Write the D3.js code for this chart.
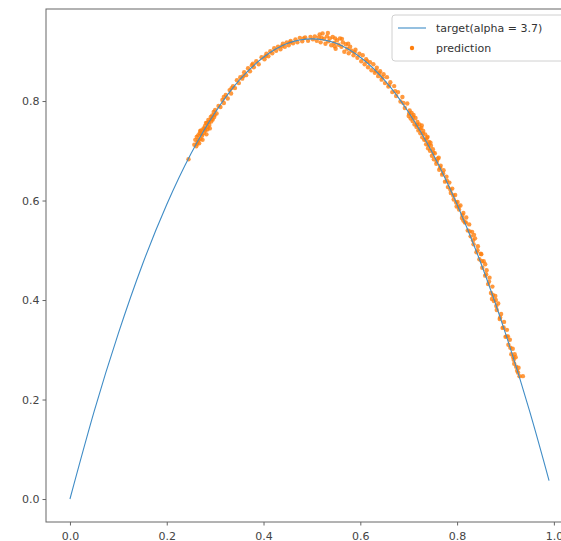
<!DOCTYPE html>
<html lang="en">

<head>
  <meta charset="UTF-8">
  <title>logistic map</title>
  <script src="https://cdn.jsdelivr.net/npm/d3@7"></script>
  <style>
    body { margin: 0; background: #fff; }
    text { font-family: "DejaVu Sans", sans-serif; }
  </style>
</head>

<body>
  <svg width="561" height="541"></svg>
  <script>
    // target curve
    var targetX = [0, 0.05, 0.1, 0.15, 0.2, 0.25, 0.3, 0.35, 0.4, 0.45, 0.5, 0.55, 0.6, 0.65, 0.7, 0.75, 0.8, 0.85, 0.9, 0.95, 0.99]
    var targetY = [0, 0.176, 0.333, 0.472, 0.592, 0.694, 0.777, 0.842, 0.888, 0.916, 0.925, 0.916, 0.888, 0.842, 0.777, 0.694, 0.592, 0.472, 0.333, 0.176, 0.037]

    // prediction scatter
    var predX = [
      0.245, 0.257, 0.259, 0.261, 0.262, 0.264, 0.265, 0.267, 0.268, 0.270, 0.271, 0.273, 0.274, 0.276, 0.277, 0.279, 0.280, 0.282, 0.283, 0.285, 0.286, 0.288, 0.289, 0.291, 0.292, 0.294, 0.295, 0.297, 0.298, 0.300, 0.263, 0.272, 0.284,
      0.266, 0.278, 0.287, 0.293, 0.299, 0.269, 0.281,
      0.303, 0.307, 0.311, 0.315, 0.318, 0.322, 0.326, 0.330, 0.333, 0.337, 0.341, 0.345, 0.349, 0.352, 0.356, 0.360, 0.364, 0.368, 0.372, 0.376, 0.380, 0.385, 0.390, 0.396,
      0.402, 0.406, 0.410, 0.414, 0.418, 0.422, 0.426, 0.430, 0.435, 0.440, 0.444, 0.448, 0.452, 0.456, 0.461, 0.466, 0.470, 0.475, 0.480, 0.486, 0.492, 0.497,
      0.318, 0.334, 0.358, 0.378, 0.404, 0.438, 0.455, 0.483,
      0.502, 0.506, 0.510, 0.514, 0.518, 0.522, 0.525, 0.528, 0.531, 0.534, 0.537, 0.540, 0.543, 0.546, 0.549, 0.552, 0.555, 0.558, 0.561, 0.564, 0.567, 0.570, 0.573, 0.576, 0.579, 0.582, 0.586, 0.590, 0.594, 0.598,
      0.516, 0.533, 0.548, 0.562, 0.575, 0.588, 0.547, 0.520,
      0.602, 0.605, 0.609, 0.612, 0.616, 0.620, 0.623, 0.627, 0.630, 0.634, 0.637, 0.641, 0.644, 0.648, 0.651, 0.655, 0.658, 0.662, 0.666, 0.670, 0.674, 0.678, 0.683, 0.687, 0.692, 0.697,
      0.614, 0.632, 0.646, 0.660, 0.672, 0.689, 0.639,
      0.700, 0.702, 0.704, 0.706, 0.708, 0.710, 0.712, 0.714, 0.716, 0.718, 0.720, 0.722, 0.724, 0.726, 0.728, 0.730, 0.732, 0.734, 0.736, 0.738, 0.740, 0.742, 0.744, 0.746, 0.748, 0.750, 0.752, 0.754, 0.757, 0.760, 0.763, 0.766, 0.769, 0.772, 0.775, 0.778, 0.781, 0.784, 0.787, 0.790, 0.793, 0.796, 0.799, 0.745,
      0.701, 0.709, 0.717, 0.723, 0.729, 0.735, 0.741, 0.739, 0.751, 0.758, 0.765, 0.771, 0.779, 0.786, 0.792, 0.798, 0.727, 0.762,
      0.801, 0.804, 0.807, 0.810, 0.813, 0.816, 0.819, 0.822, 0.825, 0.828, 0.831, 0.834, 0.837, 0.840, 0.843, 0.846, 0.849, 0.852, 0.855, 0.858, 0.861, 0.864, 0.867, 0.870, 0.873, 0.876, 0.879, 0.882, 0.885, 0.888, 0.891, 0.894, 0.897, 0.900, 0.903, 0.906, 0.909, 0.912, 0.915, 0.918, 0.921, 0.924, 0.927, 0.929, 0.872, 0.835, 0.858, 0.905, 0.916, 0.813, 0.936,
      0.803, 0.811, 0.818, 0.826, 0.833, 0.842, 0.851, 0.860, 0.866, 0.874, 0.881, 0.889, 0.896, 0.902, 0.910, 0.917, 0.922, 0.926, 0.850, 0.880, 0.919
    ]
    var predY = [
      0.683, 0.712, 0.722, 0.709, 0.728, 0.718, 0.731, 0.715, 0.735, 0.724, 0.741, 0.730, 0.722, 0.745, 0.736, 0.750, 0.741, 0.733, 0.756, 0.748, 0.762, 0.752, 0.745, 0.768, 0.759, 0.771, 0.763, 0.778, 0.768, 0.782, 0.714, 0.733, 0.743,
      0.722, 0.744, 0.758, 0.764, 0.772, 0.740, 0.756,
      0.775, 0.790, 0.788, 0.802, 0.796, 0.812, 0.805, 0.822, 0.815, 0.830, 0.826, 0.842, 0.836, 0.848, 0.845, 0.858, 0.852, 0.866, 0.860, 0.872, 0.868, 0.880, 0.874, 0.888,
      0.884, 0.895, 0.890, 0.900, 0.896, 0.906, 0.901, 0.909, 0.904, 0.915, 0.909, 0.918, 0.912, 0.921, 0.916, 0.924, 0.918, 0.927, 0.920, 0.928, 0.921, 0.929,
      0.808, 0.826, 0.850, 0.875, 0.890, 0.910, 0.918, 0.926,
      0.924, 0.930, 0.921, 0.928, 0.918, 0.936, 0.925, 0.915, 0.930, 0.920, 0.926, 0.912, 0.929, 0.917, 0.905, 0.922, 0.913, 0.926, 0.909, 0.918, 0.899, 0.914, 0.905, 0.896, 0.909, 0.901, 0.892, 0.903, 0.887, 0.895,
      0.934, 0.937, 0.926, 0.925, 0.915, 0.898, 0.910, 0.927,
      0.880, 0.892, 0.874, 0.884, 0.868, 0.878, 0.862, 0.874, 0.857, 0.867, 0.850, 0.860, 0.843, 0.854, 0.836, 0.848, 0.829, 0.838, 0.818, 0.830, 0.810, 0.818, 0.799, 0.808, 0.786, 0.795,
      0.880, 0.861, 0.848, 0.832, 0.820, 0.796, 0.856,
      0.770, 0.781, 0.765, 0.776, 0.760, 0.772, 0.753, 0.766, 0.748, 0.758, 0.741, 0.753, 0.735, 0.746, 0.727, 0.740, 0.722, 0.733, 0.713, 0.726, 0.705, 0.718, 0.700, 0.710, 0.690, 0.703, 0.683, 0.695, 0.674, 0.684, 0.662, 0.670, 0.652, 0.661, 0.638, 0.648, 0.627, 0.636, 0.615, 0.624, 0.602, 0.611, 0.588, 0.716,
      0.775, 0.768, 0.752, 0.744, 0.735, 0.722, 0.712, 0.728, 0.696, 0.679, 0.666, 0.655, 0.640, 0.622, 0.610, 0.596, 0.751, 0.686,
      0.597, 0.582, 0.590, 0.565, 0.575, 0.556, 0.566, 0.540, 0.552, 0.528, 0.537, 0.512, 0.524, 0.496, 0.508, 0.482, 0.493, 0.465, 0.478, 0.449, 0.460, 0.432, 0.445, 0.414, 0.427, 0.398, 0.408, 0.380, 0.393, 0.362, 0.372, 0.344, 0.356, 0.326, 0.340, 0.310, 0.320, 0.291, 0.302, 0.272, 0.285, 0.258, 0.264, 0.247, 0.402, 0.531, 0.472, 0.327, 0.285, 0.560, 0.247,
      0.588, 0.571, 0.556, 0.538, 0.520, 0.500, 0.478, 0.452, 0.437, 0.410, 0.388, 0.365, 0.345, 0.327, 0.304, 0.280, 0.266, 0.254, 0.492, 0.400, 0.291
    ]

    var xTicks = [0, 0.2, 0.4, 0.6, 0.8, 1.0]
    var yTicks = [0, 0.2, 0.4, 0.6, 0.8]
    var legendLabels = ['target(alpha = 3.7)', 'prediction']

    var svg = d3.select('svg')
    var padL = 46, padR = 573, padT = 9, padB = 522

    var x = d3.scaleLinear().domain([-0.0495, 1.0395]).range([padL, padR])
    var y = d3.scaleLinear().domain([-0.0462, 0.985]).range([padB, padT])

    // axes
    var xAxis = svg.append('g')
      .attr('transform', `translate(0,${padB})`)
      .call(d3.axisBottom(x).tickValues(xTicks).tickFormat(d3.format('.1f')).tickSize(3.5).tickSizeOuter(0))
    var yAxis = svg.append('g')
      .attr('transform', `translate(${padL},0)`)
      .call(d3.axisLeft(y).tickValues(yTicks).tickFormat(d3.format('.1f')).tickSize(3.5).tickSizeOuter(0))

    ;[xAxis, yAxis].forEach(g => {
      g.select('.domain').remove()
      g.selectAll('line').attr('stroke', '#666').attr('stroke-width', 1)
      g.selectAll('text').attr('fill', '#444').style('font-size', '11px')
    })
    xAxis.selectAll('text').attr('dy', '1.0em')
    yAxis.selectAll('text').attr('x', -6.5)

    // points
    var pts = predX.map((d, i) => [d, predY[i]])
    svg.append('g')
      .selectAll('circle')
      .data(pts)
      .enter()
      .append('circle')
      .attr('cx', d => x(d[0]))
      .attr('cy', d => y(d[1]))
      .attr('r', 2.2)
      .attr('fill', '#ff7f0e')
      .attr('fill-opacity', 0.8)

    // target line
    var line = d3.line()
      .x(d => x(d[0]))
      .y(d => y(d[1]))
      .curve(d3.curveNatural)
    svg.append('path')
      .datum(targetX.map((d, i) => [d, targetY[i]]))
      .attr('d', line)
      .attr('fill', 'none')
      .attr('stroke', '#3f8cc6')
      .attr('stroke-width', 1.1)

    // spines
    svg.append('rect')
      .attr('x', padL).attr('y', padT)
      .attr('width', padR - padL).attr('height', padB - padT)
      .attr('fill', 'none')
      .attr('stroke', '#666')
      .attr('stroke-width', 1)

    // legend
    var lg = svg.append('g').attr('transform', 'translate(392,15)')
    lg.append('rect')
      .attr('width', 176).attr('height', 46).attr('rx', 3)
      .attr('fill', '#fff').attr('fill-opacity', 0.8)
      .attr('stroke', '#d0d0d0')
    lg.append('line')
      .attr('x1', 6).attr('x2', 34).attr('y1', 13).attr('y2', 13)
      .attr('stroke', '#3f8cc6').attr('stroke-width', 1.1)
    lg.append('circle')
      .attr('cx', 20).attr('cy', 33).attr('r', 2.2)
      .attr('fill', '#ff7f0e')
    lg.selectAll('text.lab')
      .data(legendLabels)
      .enter()
      .append('text')
      .attr('class', 'lab')
      .attr('x', 44)
      .attr('y', (d, i) => 17 + i * 20)
      .attr('fill', '#333')
      .style('font-size', '11px')
      .text(d => d)
  </script>
</body>

</html>
